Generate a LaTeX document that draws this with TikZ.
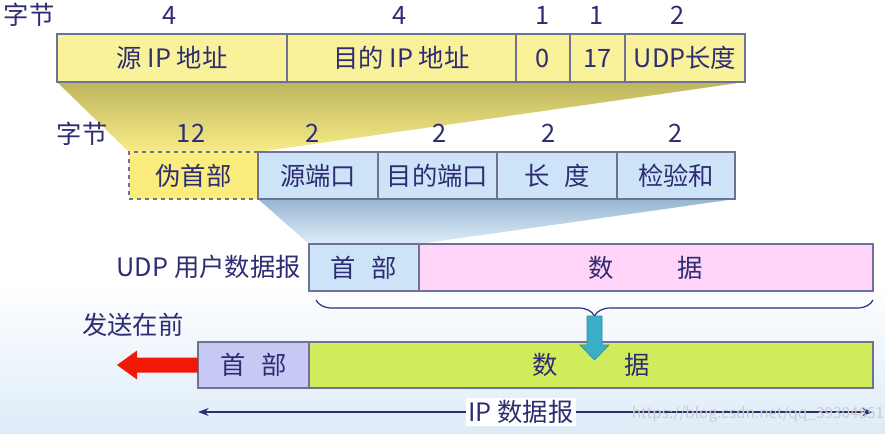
\documentclass[tikz,border=0pt]{standalone}
\usepackage{fontspec}
\setmainfont{Noto Sans CJK SC}
\usetikzlibrary{backgrounds,decorations.pathreplacing,arrows.meta,calc}
\definecolor{txt}{RGB}{45,45,115}
\definecolor{edge}{RGB}{110,115,150}
\definecolor{yfield}{RGB}{250,242,155}
\definecolor{yfieldb}{RGB}{250,236,125}
\definecolor{bfield}{RGB}{205,228,248}
\definecolor{pinkf}{RGB}{255,212,248}
\definecolor{lavf}{RGB}{200,200,245}
\definecolor{greenf}{RGB}{208,236,90}
\definecolor{ydark}{RGB}{190,182,95}
\definecolor{ylight}{RGB}{248,236,135}
\definecolor{bdark}{RGB}{150,182,208}
\definecolor{blight}{RGB}{222,236,250}
\definecolor{cyanar}{RGB}{60,175,200}
\definecolor{cyanedge}{RGB}{40,140,170}
\definecolor{redar}{RGB}{240,25,5}
\definecolor{bgblue}{RGB}{222,236,248}
\newcommand\fieldnode[7]{%
  \pgfmathsetmacro\fw{(#4-#2)*0.75}%
  \pgfmathsetmacro\fh{(#5-#3)*0.75}%
  \node[#6, minimum width=\fw pt, minimum height=\fh pt, anchor=north west] (#1) at (#2,#3) {#7};}
\begin{document}
\begin{tikzpicture}[x=0.75pt,y=-0.75pt,
  font=\fontsize{19}{22}\selectfont, text=txt,
  field/.style={draw=edge, line width=0.8pt, inner sep=0pt, outer sep=0pt},
  lbl/.style={inner sep=0pt}]
\useasboundingbox (0,0) rectangle (885,433);
% top row (pseudo header)
\fieldnode{srcip}{57}{34}{287}{82}{field,fill=yfield}{源 IP 地址}
\fieldnode{dstip}{287}{34}{516}{82}{field,fill=yfield}{目的 IP 地址}
\fieldnode{zero}{516}{34}{570}{82}{field,fill=yfield}{0}
\fieldnode{proto}{570}{34}{625}{82}{field,fill=yfield}{17}
\fieldnode{udplen}{625}{34}{745}{82}{field,fill=yfield}{UDP长度}
\node[lbl] (b0) at (29,15) {字节};
\node[lbl] (n1) at (170,15) {4};
\node[lbl] (n2) at (400,15) {4};
\node[lbl] (n3) at (543,15) {1};
\node[lbl] (n4) at (597,15) {1};
\node[lbl] (n5) at (678,15) {2};
% second row
\fieldnode{pseudo}{129}{152}{258}{199}{field,dashed,fill=yfieldb}{伪首部}
\fieldnode{srcport}{258}{152}{378}{199}{field,fill=bfield}{源端口}
\fieldnode{dstport}{378}{152}{497}{199}{field,fill=bfield}{目的端口}
\fieldnode{ulen}{497}{152}{617}{199}{field,fill=bfield}{长\hspace{11pt}度}
\fieldnode{chksum}{617}{152}{735}{199}{field,fill=bfield}{检验和}
\node[lbl] (b1) at (82,134) {字节};
\node[lbl] (m1) at (191,133) {12};
\node[lbl] (m2) at (313,133) {2};
\node[lbl] (m3) at (440,133) {2};
\node[lbl] (m4) at (549,133) {2};
\node[lbl] (m5) at (676,133) {2};
% UDP datagram
\fieldnode{udphdr}{309}{244}{419}{291}{field,fill=bfield}{首\hspace{12pt}部}
\fieldnode{udpdata}{419}{244}{873}{291}{field,fill=pinkf}{数\hspace{48pt}据}
\node[lbl, anchor=east] (udplbl) at (301,267) {UDP 用户数据报};
% IP datagram
\fieldnode{iphdr}{198}{342}{309}{388}{field,fill=lavf}{首\hspace{12pt}部}
\fieldnode{ipdata}{309}{342}{873}{388}{field,fill=greenf}{数\hspace{50pt}据}
\node[lbl, anchor=west] (sendlbl) at (82,325) {发送在前};
% background shapes
\begin{scope}[on background layer]
  \shade[top color=white, bottom color=bgblue] (0,280) rectangle (885,433);
  \shade[top color=ydark, bottom color=ylight]
    (srcip.south west) -- (udplen.south east) -- (pseudo.north east) -- (pseudo.north west) -- cycle;
  \shade[top color=bdark, bottom color=blight]
    (srcport.south west) -- (chksum.south east) -- (udphdr.north east) -- (udphdr.north west) -- cycle;
\end{scope}
% brace
\coordinate (bl) at ($(udphdr.south west)+(7,9)$);
\coordinate (br) at ($(udpdata.south east)+(0,9)$);
\draw[txt, line width=0.9pt, decorate, decoration={brace, amplitude=12pt}] (br) -- (bl);
\coordinate (tip) at ($(bl)!0.5!(br)+(0,16)$);
% cyan arrow
\filldraw[fill=cyanar, draw=cyanedge, line width=0.5pt]
  ($(tip)+(-7.5,0)$) -- ($(tip)+(7.5,0)$) -- ($(tip)+(7.5,29)$) -- ($(tip)+(14.5,29)$)
  -- ($(tip)+(0,44)$) -- ($(tip)+(-14.5,29)$) -- ($(tip)+(-7.5,29)$) -- cycle;
% red arrow
\fill[redar] ($(iphdr.west)+(0,-7.5)$) -- ($(iphdr.west)+(-61,-7.5)$) -- ($(iphdr.west)+(-61,-14.5)$)
  -- ($(iphdr.west)+(-81,0)$) -- ($(iphdr.west)+(-61,14.5)$) -- ($(iphdr.west)+(-61,7.5)$)
  -- ($(iphdr.west)+(0,7.5)$) -- cycle;
% IP datagram span
\coordinate (dl) at ($(iphdr.south west)+(0,24)$);
\coordinate (dr) at ($(ipdata.south east)+(0,24)$);
\draw[txt, line width=0.9pt, {Stealth[length=8pt,width=6pt]}-{Stealth[length=8pt,width=6pt]}] (dl) -- (dr);
\node[fill=white, inner sep=2pt] (iplbl) at (521,412) {IP 数据报};
\node[lbl, text=black!20, font=\fontsize{11.5}{13}\selectfont] (wm) at (758,414) {https://blog.csdn.net/qq\_39304851};
\end{tikzpicture}
\end{document}
